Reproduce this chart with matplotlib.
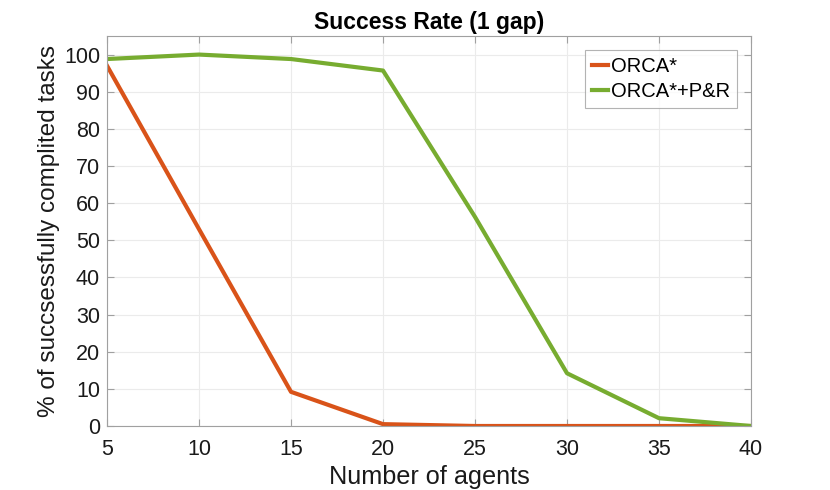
import matplotlib
matplotlib.use("Agg")
import matplotlib.pyplot as plt

agents = [5, 10, 15, 20, 25, 30, 35, 40]
orca = [97.0, 53.0, 9.2, 0.5, 0.0, 0.0, 0.0, 0.0]
orca_pr = [98.8, 100.0, 98.8, 95.7, 56.3, 14.2, 2.1, 0.0]
xticks = [5, 10, 15, 20, 25, 30, 35, 40]
yticks = list(range(0, 101, 10))

plt.rcParams['font.family'] = ['Liberation Sans', 'DejaVu Sans']

fig = plt.figure(figsize=(8.3, 4.9), dpi=100)
ax = fig.add_axes([107/830, 1-426/490, (751-107)/830, (426-36)/490])

ax.plot(agents, orca, color='#D95319', lw=3, label='ORCA*')
ax.plot(agents, orca_pr, color='#77AC30', lw=3, label='ORCA*+P&R')

ax.set_xlim(5, 40)
ax.set_ylim(0, 105)
ax.set_xticks(xticks)
ax.set_yticks(yticks)
ax.grid(True, color='#ebebeb', lw=0.8)
ax.set_axisbelow(True)
for s in ax.spines.values():
    s.set_color('#a0a0a0')
    s.set_linewidth(0.8)
ax.tick_params(direction='in', top=True, right=True, length=5, color='#a0a0a0',
               labelsize=15.5, labelcolor='#1a1a1a')
ax.tick_params(axis='x', pad=9)
ax.tick_params(axis='y', pad=5)
ax.set_xlabel('Number of agents', fontsize=18.2, color='#1a1a1a', labelpad=4)
ax.set_ylabel('% of succsessfully complited tasks', fontsize=17.5, color='#1a1a1a', labelpad=3)
ax.set_title('Success Rate (1 gap)', fontsize=16.5, fontweight='bold', pad=5)

leg = ax.legend(loc='upper right', fontsize=14.5, frameon=True, fancybox=False,
                handlelength=0.8, handletextpad=0.15, borderaxespad=0.7,
                borderpad=0.35, labelspacing=0.3)
leg.get_frame().set_edgecolor('#a0a0a0')
leg.get_frame().set_linewidth(0.8)

fig.savefig('out.png', dpi=100)
